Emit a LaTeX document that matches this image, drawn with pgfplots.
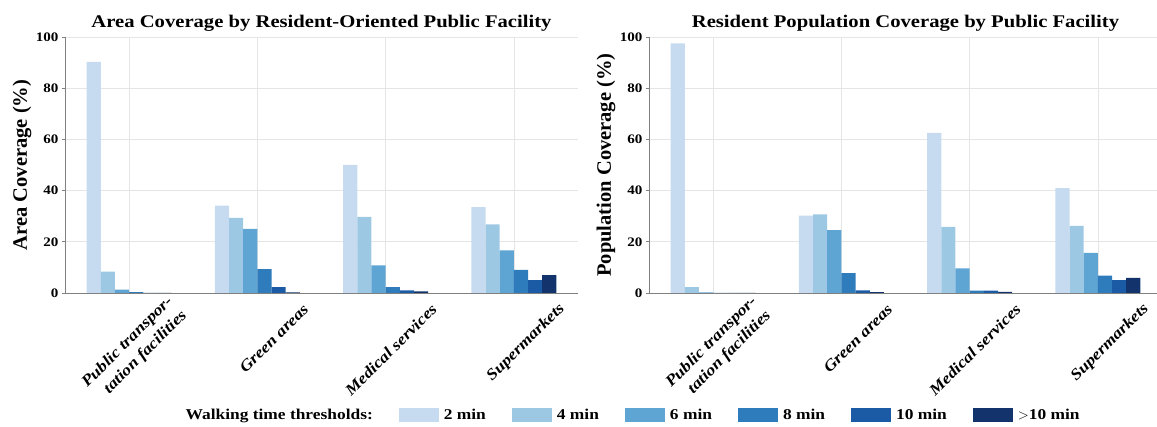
\documentclass[border=0pt]{standalone}
\usepackage{fontspec}
\setmainfont{Liberation Serif}[FakeStretch=1.16]
\newfontfamily\rotfont{Liberation Serif}
\usepackage{pgfplots}
\pgfplotsset{compat=1.18}
\definecolor{c1}{HTML}{C6DBEF}
\definecolor{c2}{HTML}{9DC8E3}
\definecolor{c3}{HTML}{5EA5D3}
\definecolor{c4}{HTML}{2F7CBC}
\definecolor{c5}{HTML}{1B5BA6}
\definecolor{c6}{HTML}{12336B}
\pgfplotsset{
  myaxis/.style={
    scale only axis, width=513pt, height=256pt,
    xmin=-0.5, xmax=3.5, ymin=0, ymax=100,
    ybar=0pt, bar width=0.1106,
    xtick={0,1,2,3},
    xticklabels={{Public transpor-\\tation facilities},{Green areas},{Medical services},{Supermarkets}},
    xticklabel style={xshift=51pt, yshift=-8pt, rotate=45, anchor=east, align=right,
      font=\bfseries\itshape\fontsize{15.5}{20}\selectfont},
    ytick={0,20,40,60,80,100},
    yticklabel style={font=\bfseries\fontsize{13}{13}\selectfont},
    /pgf/number format/assume math mode=true,
    axis x line*=bottom, axis y line*=left,
    axis line style={draw=black!50, line width=0.9pt},
    grid=major, major grid style={draw=black!10, line width=0.6pt},
    xtick style={draw=none},
    ytick style={draw=black!50, line width=0.8pt},
    tick align=outside, major tick length=3pt,
    title style={font=\bfseries\fontsize{17.8}{18}\selectfont, at={(0.5,1)}, anchor=base, yshift=3pt},
    every axis y label/.style={font=\rotfont\bfseries\fontsize{20.5}{21}\selectfont,
      at={(axis description cs:-0.084,0.5)}, rotate=90, anchor=center},
  },
  leg/.style={legend image code/.code={\fill[##1] (0pt,-7pt) rectangle (40pt,7pt);}},
}
\pgfplotstableread{
x t2 t4 t6 t8 t10 t12
0 90.3 8.3 1.3 0.3 0.05 0
1 34.1 29.3 25.0 9.3 2.3 0.2
2 50.0 29.7 10.8 2.3 1.0 0.6
3 33.5 26.8 16.6 9.0 5.0 7.0
}\areatable
\pgfplotstableread{
x t2 t4 t6 t8 t10 t12
0 97.5 2.3 0.2 0 0 0
1 30.2 30.7 24.6 7.8 1.0 0.3
2 62.5 25.8 9.6 0.9 0.9 0.4
3 41.0 26.2 15.7 6.8 5.0 5.9
}\poptable
\begin{document}
\begin{tikzpicture}
\useasboundingbox (0,0) rectangle (1157pt,427pt);
\begin{axis}[myaxis, at={(65pt,134pt)}, anchor=south west,
  title={Area Coverage by Resident-Oriented Public Facility},
  ylabel={Area Coverage (\%)},
  legend columns=7,
  legend style={at={(axis description cs:0.225,-0.4766)}, anchor=west, draw=none, fill=none,
    inner sep=0pt, font=\bfseries\fontsize{15}{15}\selectfont,
    /tikz/every even column/.append style={column sep=24pt},
    /tikz/every odd column/.append style={column sep=3pt}},
  legend cell align=left]
\addlegendimage{empty legend}
\addlegendentry{Walking time thresholds:}
\addplot[fill=c1, draw=none, leg] table[x=x, y=t2] {\areatable};
\addlegendentry{2 min}
\addplot[fill=c2, draw=none, leg] table[x=x, y=t4] {\areatable};
\addlegendentry{4 min}
\addplot[fill=c3, draw=none, leg] table[x=x, y=t6] {\areatable};
\addlegendentry{6 min}
\addplot[fill=c4, draw=none, leg] table[x=x, y=t8] {\areatable};
\addlegendentry{8 min}
\addplot[fill=c5, draw=none, leg] table[x=x, y=t10] {\areatable};
\addlegendentry{10 min}
\addplot[fill=c6, draw=none, leg] table[x=x, y=t12] {\areatable};
\addlegendentry{${>}$10 min}
\end{axis}
\begin{axis}[myaxis, at={(649pt,134pt)}, anchor=south west,
  title={Resident Population Coverage by Public Facility},
  ylabel={Population Coverage (\%)}]
\addplot[fill=c1, draw=none] table[x=x, y=t2] {\poptable};
\addplot[fill=c2, draw=none] table[x=x, y=t4] {\poptable};
\addplot[fill=c3, draw=none] table[x=x, y=t6] {\poptable};
\addplot[fill=c4, draw=none] table[x=x, y=t8] {\poptable};
\addplot[fill=c5, draw=none] table[x=x, y=t10] {\poptable};
\addplot[fill=c6, draw=none] table[x=x, y=t12] {\poptable};
\end{axis}
\end{tikzpicture}
\end{document}
